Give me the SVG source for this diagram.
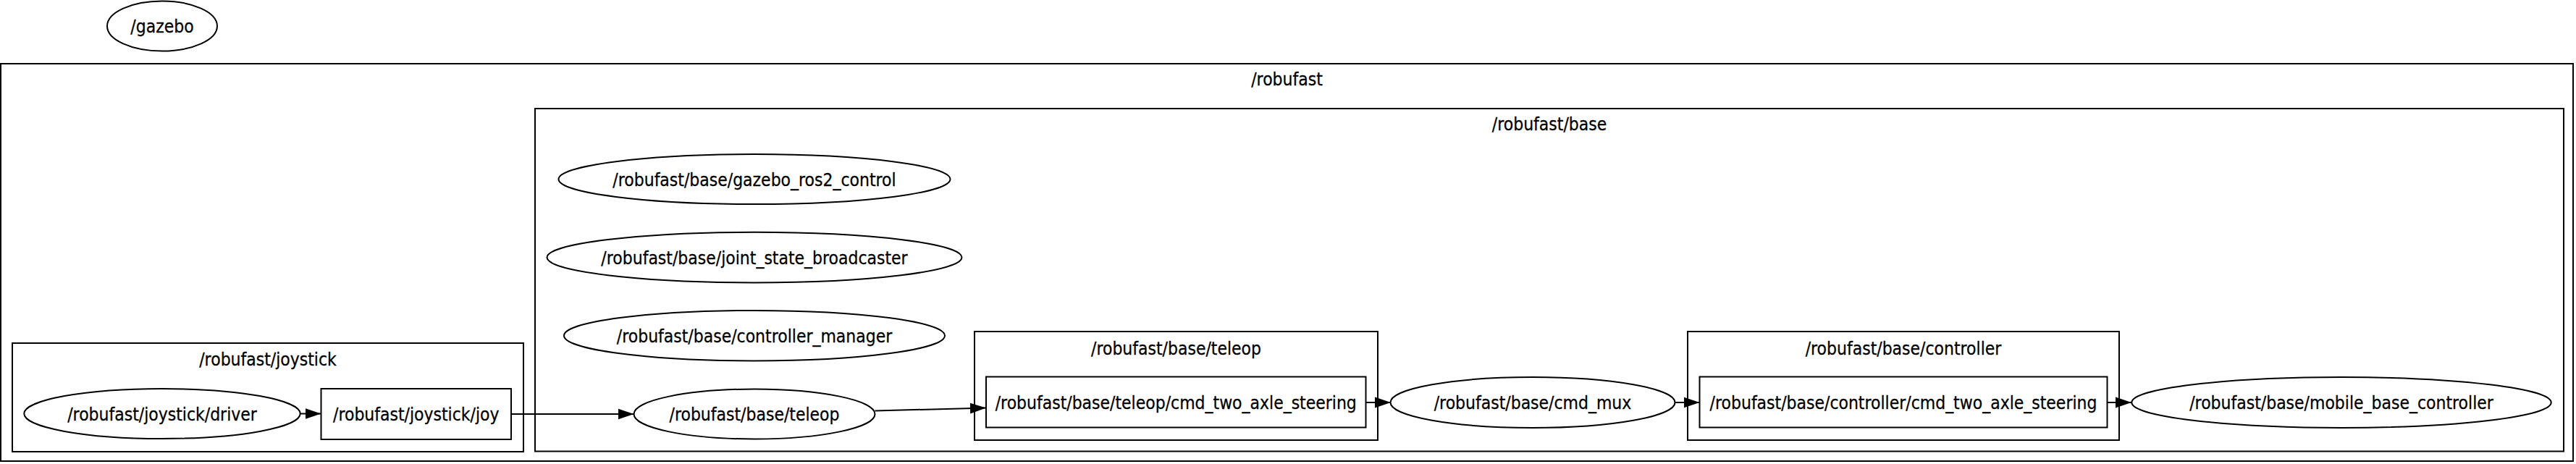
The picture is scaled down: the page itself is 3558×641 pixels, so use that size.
<svg xmlns="http://www.w3.org/2000/svg" width="3558" height="641" viewBox="0 0 3558 641">
<style>
  .cl { fill: none; stroke: #000; stroke-width: 2; }
  .nd { fill: #fff; stroke: #000; stroke-width: 2; }
  .nt { font-family: "DejaVu Sans", "Liberation Sans", sans-serif; font-size: 25px; fill: #000; stroke: #000; stroke-width: 0.3; text-anchor: middle; }
  .ed { fill: none; stroke: #000; stroke-width: 2; marker-end: url(#arr); }
</style>
<defs>
  <marker id="arr" markerUnits="userSpaceOnUse" markerWidth="22" markerHeight="16" refX="22" refY="7.5" orient="auto" viewBox="0 0 22 15">
    <path d="M0,0 L22,7.5 L0,15 z" fill="#000"/>
  </marker>
</defs>
<rect width="3558" height="641" fill="#fff"/>

<g id="cluster_robufast">
  <rect class="cl" x="1" y="88" width="3553" height="549"/>
  <text class="nt" transform="translate(1777.5,118) scale(0.88,1)">/robufast</text>
</g>
<g id="cluster_base">
  <rect class="cl" x="739" y="150" width="2802" height="473.5"/>
  <text class="nt" transform="translate(2140,180) scale(0.88,1)">/robufast/base</text>
</g>
<g id="cluster_joystick">
  <rect class="cl" x="17" y="474" width="706" height="150"/>
  <text class="nt" transform="translate(370,505) scale(0.88,1)">/robufast/joystick</text>
</g>
<g id="cluster_teleop">
  <rect class="cl" x="1346" y="458" width="557" height="150"/>
  <text class="nt" transform="translate(1624.5,490) scale(0.88,1)">/robufast/base/teleop</text>
</g>
<g id="cluster_controller">
  <rect class="cl" x="2331" y="458" width="596" height="150"/>
  <text class="nt" transform="translate(2629,490) scale(0.88,1)">/robufast/base/controller</text>
</g>

<g id="edges">
  <path class="ed" d="M414.5,571.5 L443.5,571.5"/>
  <path class="ed" d="M706,572 L875.5,572"/>
  <path class="ed" d="M1208.5,567.5 L1362,563.5"/>
  <path class="ed" d="M1886.5,556 L1921,556"/>
  <path class="ed" d="M2314,556 L2347.5,556"/>
  <path class="ed" d="M2910.5,556 L2944,556"/>
</g>

<g id="gazebo">
  <ellipse class="nd" cx="224" cy="36" rx="76" ry="34.5"/>
  <text class="nt" transform="translate(224,45) scale(0.88,1)">/gazebo</text>
</g>
<g id="gazebo_ros2_control">
  <ellipse class="nd" cx="1042" cy="247.6" rx="270.5" ry="34.5"/>
  <text class="nt" transform="translate(1042,256.6) scale(0.88,1)">/robufast/base/gazebo_ros2_control</text>
</g>
<g id="joint_state_broadcaster">
  <ellipse class="nd" cx="1042" cy="355.6" rx="286.5" ry="34.8"/>
  <text class="nt" transform="translate(1042,364.6) scale(0.88,1)">/robufast/base/joint_state_broadcaster</text>
</g>
<g id="controller_manager">
  <ellipse class="nd" cx="1042" cy="463.7" rx="263" ry="34.8"/>
  <text class="nt" transform="translate(1042,472.7) scale(0.88,1)">/robufast/base/controller_manager</text>
</g>
<g id="base_teleop">
  <ellipse class="nd" cx="1042" cy="572" rx="166.5" ry="34.5"/>
  <text class="nt" transform="translate(1042,581) scale(0.88,1)">/robufast/base/teleop</text>
</g>
<g id="joystick_driver">
  <ellipse class="nd" cx="224" cy="571.5" rx="190.7" ry="34.5"/>
  <text class="nt" transform="translate(224,580.5) scale(0.88,1)">/robufast/joystick/driver</text>
</g>
<g id="joystick_joy">
  <rect class="nd" x="443.5" y="537" width="262.5" height="70"/>
  <text class="nt" transform="translate(574.75,581) scale(0.88,1)">/robufast/joystick/joy</text>
</g>
<g id="teleop_cmd_two_axle_steering">
  <rect class="nd" x="1362" y="520.5" width="524.5" height="70"/>
  <text class="nt" transform="translate(1624.25,564.5) scale(0.88,1)">/robufast/base/teleop/cmd_two_axle_steering</text>
</g>
<g id="cmd_mux">
  <ellipse class="nd" cx="2117" cy="556" rx="196.5" ry="35"/>
  <text class="nt" transform="translate(2117,565) scale(0.88,1)">/robufast/base/cmd_mux</text>
</g>
<g id="controller_cmd_two_axle_steering">
  <rect class="nd" x="2347.5" y="520.5" width="563" height="70"/>
  <text class="nt" transform="translate(2629,564.5) scale(0.88,1)">/robufast/base/controller/cmd_two_axle_steering</text>
</g>
<g id="mobile_base_controller">
  <ellipse class="nd" cx="3234" cy="556" rx="289.7" ry="35"/>
  <text class="nt" transform="translate(3234,565) scale(0.88,1)">/robufast/base/mobile_base_controller</text>
</g>
</svg>
